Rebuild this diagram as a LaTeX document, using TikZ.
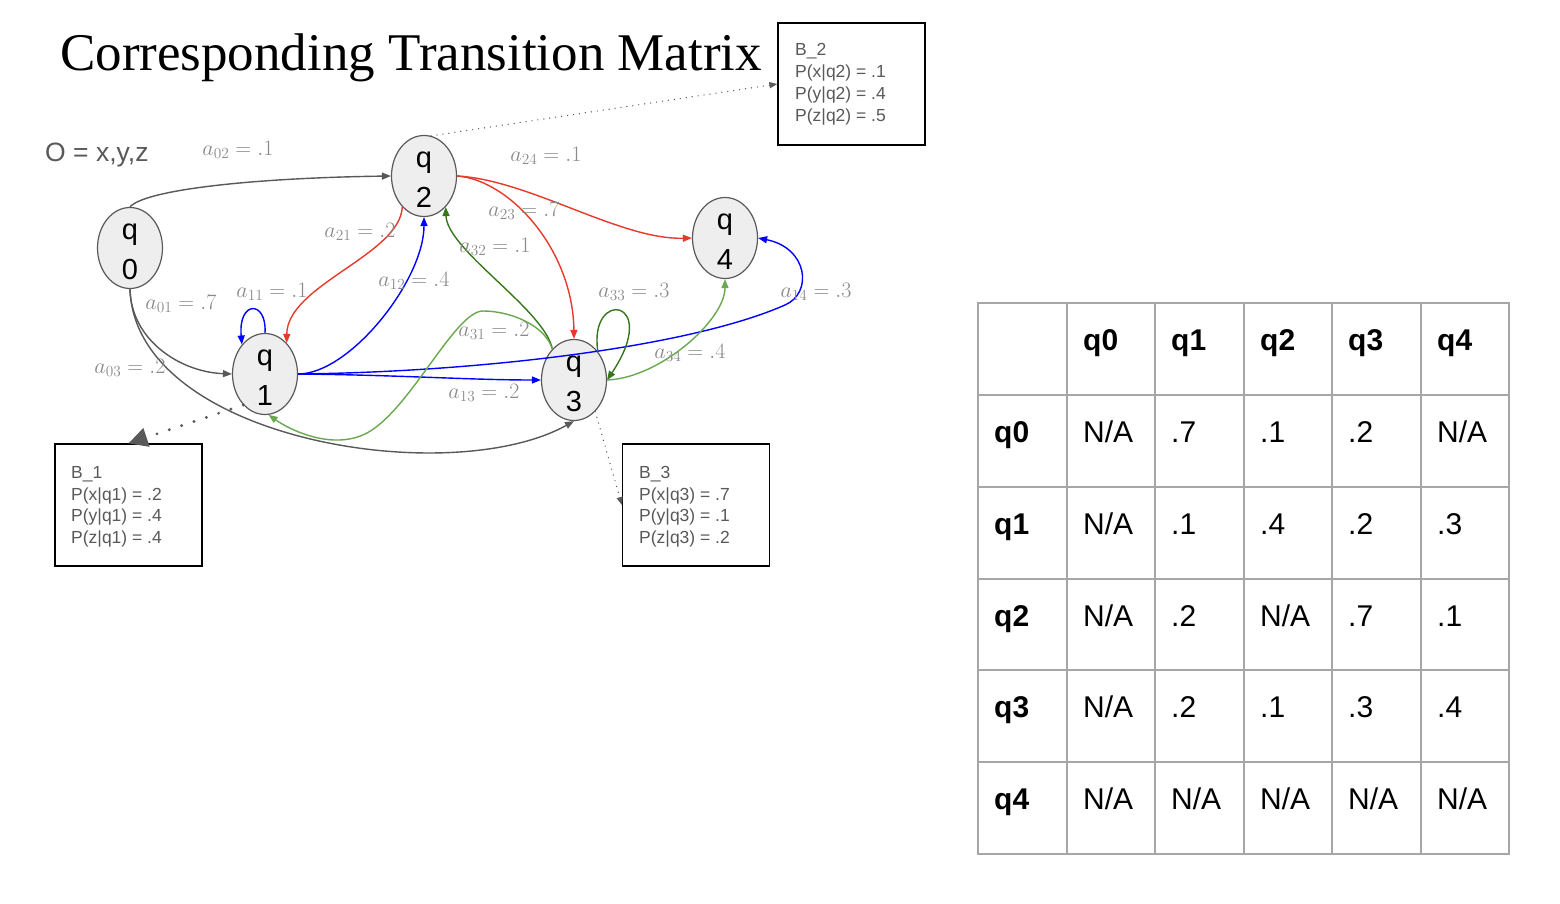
\RequirePackage{fix-cm}
\documentclass[tikz,border=0pt]{standalone}
\usepackage[no-math]{fontspec}
\setmainfont{Liberation Sans}
\newfontfamily\titlefont{Liberation Serif}
\usetikzlibrary{shapes.geometric,arrows.meta}
\definecolor{edgegray}{HTML}{595959}
\definecolor{nodefill}{HTML}{EEEEEE}
\definecolor{lblgray}{HTML}{8A8A8A}
\definecolor{ered}{HTML}{E8392A}
\definecolor{eblue}{HTML}{0000FF}
\definecolor{dgreen}{HTML}{38761D}
\definecolor{lgreen}{HTML}{6AA84F}
\definecolor{gridgray}{HTML}{A6A6A6}
\newcommand{\tcell}[4]{\node[cell] (#1) at (#2,#3) {#4};}
\begin{document}
\begin{tikzpicture}[x=1pt,y=-1pt,
  state/.style={ellipse, draw=edgegray, fill=nodefill, line width=1.2pt,
    minimum width=65pt, minimum height=81pt, inner sep=0pt},
  stxt/.style={inner sep=0pt, align=center, font=\fontsize{29}{40}\selectfont},
  edge/.style={line width=1.4pt, -{Triangle[length=9pt,width=7pt]}},
  lbl/.style={text=lblgray, font=\fontsize{22}{26}\selectfont, inner sep=0pt},
  bbox/.style={draw=black, line width=1.2pt, minimum width=147pt,
    minimum height=122pt, inner sep=0pt},
  btext/.style={anchor=base west, text=edgegray, inner sep=0pt,
    font=\fontsize{17.5}{21}\selectfont},
  cell/.style={anchor=base west, inner sep=0pt, font=\fontsize{30}{36}\selectfont},
  hcell/.style={cell, font=\fontsize{30}{36}\selectfont\bfseries},
  fine dots/.style={edgegray, line width=1.4pt, line cap=round,
    dash pattern=on 0pt off 6pt, -{Triangle[length=8pt,width=6pt]}},
  big dots/.style={edgegray, line width=3.2pt, line cap=round,
    dash pattern=on 0pt off 13pt, -{Triangle[length=19pt,width=19pt]}}
]
\useasboundingbox (0,0) rectangle (1560,904);
\fill[white] (0,0) rectangle (1560,904);

% title and observation set
\node[anchor=base west, inner sep=0pt, font=\titlefont\fontsize{53}{60}\selectfont]
  (title) at (60,71) {Corresponding Transition Matrix};
\node[anchor=base west, inner sep=0pt, text=edgegray, font=\fontsize{26.5}{30}\selectfont]
  (obs) at (45,162) {O = x,y,z};

% states
\node[state] (q0) at (130,248) {};
\node[state] (q2) at (424,176) {};
\node[state] (q4) at (725,238) {};
\node[state] (q1) at (265,374) {};
\node[state] (q3) at (574,380) {};
\node[stxt] (q0t) at ([yshift=-4pt]q0.center) {q\\0};
\node[stxt] (q2t) at ([yshift=-4pt]q2.center) {q\\2};
\node[stxt] (q4t) at ([yshift=-4pt]q4.center) {q\\4};
\node[stxt] (q1t) at ([yshift=-4pt]q1.center) {q\\1};
\node[stxt] (q3t) at ([yshift=-4pt]q3.center) {q\\3};

% emission boxes
\node[bbox] (B2) at (851.5,84) {};
\node[bbox] (B1) at (128.5,505) {};
\node[bbox] (B3) at (696,505) {};
\node[btext] (B2a) at (795,56) {B\_2};
\node[btext] (B2b) at (795,78) {P(x|q2) = .1};
\node[btext] (B2c) at (795,100) {P(y|q2) = .4};
\node[btext] (B2d) at (795,122) {P(z|q2) = .5};
\node[btext] (B1a) at (71,478) {B\_1};
\node[btext] (B1b) at (71,500) {P(x|q1) = .2};
\node[btext] (B1c) at (71,521) {P(y|q1) = .4};
\node[btext] (B1d) at (71,543) {P(z|q1) = .4};
\node[btext] (B3a) at (639,478) {B\_3};
\node[btext] (B3b) at (639,500) {P(x|q3) = .7};
\node[btext] (B3c) at (639,521) {P(y|q3) = .1};
\node[btext] (B3d) at (639,543) {P(z|q3) = .2};

% dotted links to boxes
\draw[fine dots] (q2.80) -- (B2.west);
\draw[big dots] (q1.235) -- (B1.north);
\draw[fine dots] (q3.304) -- (B3.west);

% transitions
\draw[edge, edgegray] (q0.north) .. controls (145,190) and (250,178) .. (q2.west);
\draw[edge, edgegray] (q0.south) .. controls (131,340) and (180,372) .. (q1.west);
\draw[edge, edgegray] (q0.south) .. controls (135,440) and (450,490) .. (q3.south);
\draw[edge, ered] (q2.235) .. controls (400,255) and (287,285) .. (q1.55);
\draw[edge, eblue] (q1.east) .. controls (350,374) and (424,280) .. (q2.south);
\draw[edge, eblue] (q1.90) .. controls (267,300) and (238,300) .. (q1.128);
\draw[edge, eblue] (q1.east) .. controls (400,375) and (470,380) .. (q3.west);
\coordinate (a14m) at (785,305);
\draw[edge, eblue] (q1.east) .. controls (480,372) and (690,347) .. (a14m)
  .. controls (813,293) and (808,248) .. (q4.east);
\draw[edge, ered] (q2.east) .. controls (530,180) and (620,240) .. (q4.west);
\draw[edge, ered] (q2.east) .. controls (510,180) and (573,250) .. (q3.north);
\draw[edge, dgreen] (q3.125) .. controls (545,310) and (447,250) .. (q2.305);
\coordinate (a31p) at (483,311);
\coordinate (a31v) at (367,433);
\draw[edge, lgreen] (q3.125) .. controls (545,325) and (510,311) .. (a31p)
  .. controls (455,311) and (410,410) .. (a31v)
  .. controls (333,451) and (290,430) .. (q1.275);
\draw[edge, dgreen] (q3.50) .. controls (588,288) and (662,298) .. (q3.east);
\draw[edge, lgreen] (q3.east) .. controls (660,378) and (725,320) .. (q4.south);

% transition labels
\node[lbl] (l02) at (238,150) {$a_{02} = .1$};
\node[lbl] (l24) at (546,156) {$a_{24} = .1$};
\node[lbl] (l23) at (524,211) {$a_{23} = .7$};
\node[lbl] (l21) at (360,232) {$a_{21} = .2$};
\node[lbl] (l32) at (495,247) {$a_{32} = .1$};
\node[lbl] (l12) at (414,281) {$a_{12} = .4$};
\node[lbl] (l11) at (272,292) {$a_{11} = .1$};
\node[lbl] (l01) at (181,304) {$a_{01} = .7$};
\node[lbl] (l03) at (130,368) {$a_{03} = .2$};
\node[lbl] (l33) at (634,292) {$a_{33} = .3$};
\node[lbl] (l14) at (816,292) {$a_{14} = .3$};
\node[lbl] (l34) at (690,353) {$a_{34} = .4$};
\node[lbl] (l31) at (494,331) {$a_{31} = .2$};
\node[lbl] (l13) at (484,393) {$a_{13} = .2$};

% transition matrix table
\draw[gridgray, line width=1.5pt] (978,303) rectangle (1509,854);
\foreach \x in {1067,1155,1244,1332,1421} \draw[gridgray, line width=1.5pt] (\x,303) -- (\x,854);
\foreach \y in {395,487,579,670,762} \draw[gridgray, line width=1.5pt] (978,\y) -- (1509,\y);

\node[hcell] (h1) at (1083,350) {q0};
\node[hcell] (h2) at (1171,350) {q1};
\node[hcell] (h3) at (1260,350) {q2};
\node[hcell] (h4) at (1348,350) {q3};
\node[hcell] (h5) at (1437,350) {q4};

\node[hcell] (r0) at (994,442) {q0};
\tcell{c01}{1083}{442}{N/A}\tcell{c02}{1171}{442}{.7}\tcell{c03}{1260}{442}{.1}\tcell{c04}{1348}{442}{.2}\tcell{c05}{1437}{442}{N/A}
\node[hcell] (r1) at (994,534) {q1};
\tcell{c11}{1083}{534}{N/A}\tcell{c12}{1171}{534}{.1}\tcell{c13}{1260}{534}{.4}\tcell{c14}{1348}{534}{.2}\tcell{c15}{1437}{534}{.3}
\node[hcell] (r2) at (994,626) {q2};
\tcell{c21}{1083}{626}{N/A}\tcell{c22}{1171}{626}{.2}\tcell{c23}{1260}{626}{N/A}\tcell{c24}{1348}{626}{.7}\tcell{c25}{1437}{626}{.1}
\node[hcell] (r3) at (994,717) {q3};
\tcell{c31}{1083}{717}{N/A}\tcell{c32}{1171}{717}{.2}\tcell{c33}{1260}{717}{.1}\tcell{c34}{1348}{717}{.3}\tcell{c35}{1437}{717}{.4}
\node[hcell] (r4) at (994,809) {q4};
\tcell{c41}{1083}{809}{N/A}\tcell{c42}{1171}{809}{N/A}\tcell{c43}{1260}{809}{N/A}\tcell{c44}{1348}{809}{N/A}\tcell{c45}{1437}{809}{N/A}
\end{tikzpicture}
\end{document}
